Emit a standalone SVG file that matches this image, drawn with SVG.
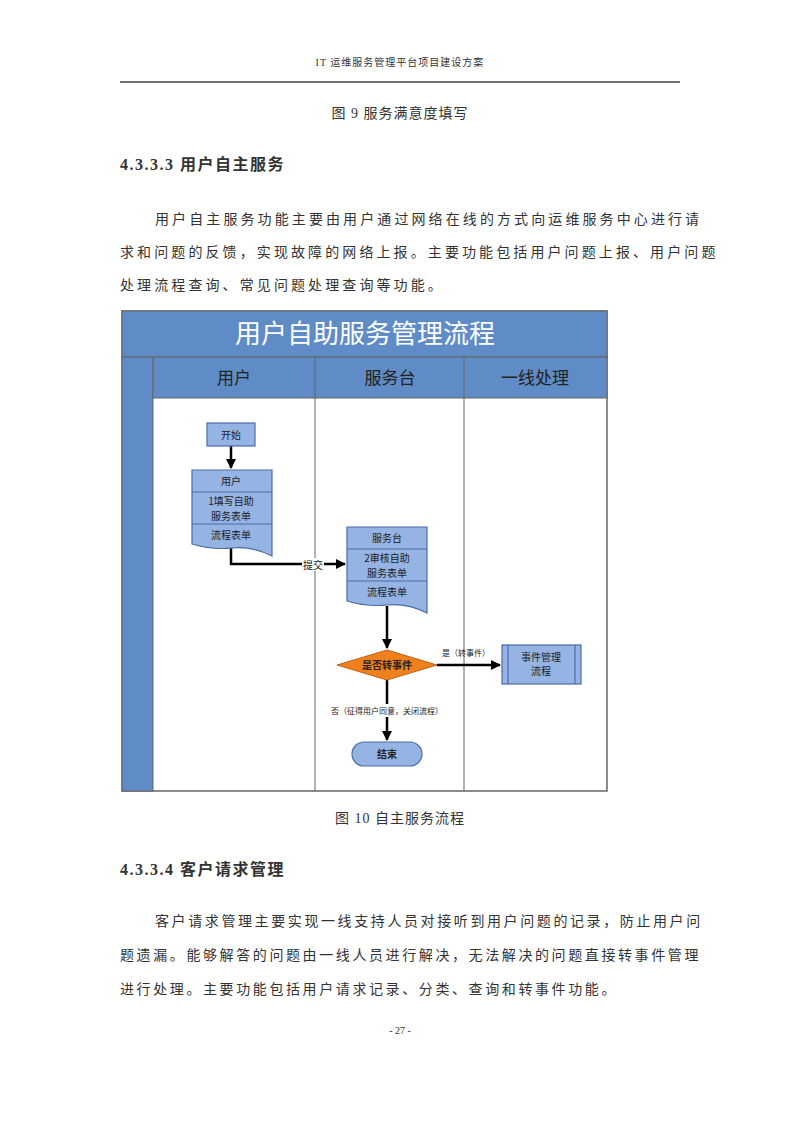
<svg xmlns="http://www.w3.org/2000/svg" width="800" height="1131" viewBox="0 0 800 1131">
<defs>
<style>
.t{font-family:"Liberation Serif","Noto Sans CJK SC",serif;fill:#333}
.s{font-family:"Noto Sans CJK SC",sans-serif;fill:#222}
.box{fill:#95b3e3;stroke:#4a6da8;stroke-width:1.2}
.ln{stroke:#000;stroke-width:2.5;fill:none}
.sep{stroke:#4a6da8;stroke-width:1.2}
</style>
<marker id="a" viewBox="0 0 10 10" refX="9" refY="5" markerWidth="4" markerHeight="4" orient="auto"><path d="M0,0L10,5L0,10z" fill="#000"/></marker>
</defs>
<rect width="800" height="1131" fill="#fff"/>
<text class="t" x="400" y="66" font-size="10" text-anchor="middle" letter-spacing="1">IT 运维服务管理平台项目建设方案</text>
<line x1="120" y1="82" x2="680" y2="82" stroke="#444" stroke-width="1.5"/>
<text class="t" x="400" y="118" font-size="14" text-anchor="middle" letter-spacing="1">图 9   服务满意度填写</text>
<text class="t" x="120" y="170" font-size="16" font-weight="bold" letter-spacing="1.5">4.3.3.3 用户自主服务</text>
<text class="t" font-size="14" letter-spacing="3.1"><tspan x="155" y="224">用户自主服务功能主要由用户通过网络在线的方式向运维服务中心进行请</tspan><tspan x="120" y="257">求和问题的反馈，实现故障的网络上报。主要功能包括用户问题上报、用户问题</tspan><tspan x="120" y="290">处理流程查询、常见问题处理查询等功能。</tspan></text>
<g id="pool">
<rect x="122" y="311" width="485" height="480" fill="#fff" stroke="#666" stroke-width="1.5"/>
<rect x="122" y="311" width="485" height="46" fill="#5f8cc6" stroke="#666"/>
<text class="s" x="365" y="343" font-size="26" fill="#fff" text-anchor="middle" style="fill:#fff">用户自助服务管理流程</text>
<rect x="122" y="357" width="31" height="434" fill="#5f8cc6" stroke="#666"/>
<rect x="153" y="357" width="454" height="41" fill="#5f8cc6" stroke="#666"/>
<line x1="315" y1="357" x2="315" y2="791" stroke="#666"/>
<line x1="464" y1="357" x2="464" y2="791" stroke="#666"/>
<text class="s" x="234" y="384" font-size="17" text-anchor="middle">用户</text>
<text class="s" x="390" y="384" font-size="17" text-anchor="middle">服务台</text>
<text class="s" x="535" y="384" font-size="17" text-anchor="middle">一线处理</text>
</g>
<g id="connectors">
<line class="ln" x1="231" y1="446" x2="231" y2="468" marker-end="url(#a)"/>
<path class="ln" d="M231,548V564H345" marker-end="url(#a)"/>
<rect x="302" y="558" width="22" height="13" fill="#fff"/>
<text class="s" x="313" y="569" font-size="10" text-anchor="middle">提交</text>
<line class="ln" x1="387" y1="606" x2="387" y2="648" marker-end="url(#a)"/>
<line class="ln" x1="437" y1="665" x2="500" y2="665" marker-end="url(#a)"/>
<text class="s" x="466" y="656" font-size="8" text-anchor="middle">是（转事件）</text>
<line class="ln" x1="387" y1="680" x2="387" y2="740" marker-end="url(#a)"/>
<rect x="322" y="704" width="130" height="13" fill="#fff"/>
<text class="s" x="387" y="714" font-size="8" text-anchor="middle">否（征得用户同意，关闭流程）</text>
</g>
<g id="start"><rect class="box" x="207" y="423" width="48" height="23"/><text class="s" x="231" y="439" font-size="10" text-anchor="middle">开始</text></g>
<g id="user">
<path class="box" d="M192,470H272V556Q252,546 232,548T192,544Z"/>
<line class="sep" x1="192" y1="492" x2="272" y2="492"/><line class="sep" x1="192" y1="524" x2="272" y2="524"/>
<text class="s" font-size="10" text-anchor="middle"><tspan x="231" y="485">用户</tspan><tspan x="231" y="505">1填写自助</tspan><tspan x="231" y="520">服务表单</tspan><tspan x="231" y="539">流程表单</tspan></text>
</g>
<g id="desk">
<path class="box" d="M347,527H427V613Q407,603 387,605T347,601Z"/>
<line class="sep" x1="347" y1="549" x2="427" y2="549"/><line class="sep" x1="347" y1="581" x2="427" y2="581"/>
<text class="s" font-size="10" text-anchor="middle"><tspan x="387" y="542">服务台</tspan><tspan x="387" y="562">2审核自助</tspan><tspan x="387" y="577">服务表单</tspan><tspan x="387" y="596">流程表单</tspan></text>
</g>
<g id="decision"><path d="M387,650L437,665L387,680L337,665Z" fill="#f0801c" stroke="#c0601a"/><text class="s" x="387" y="669" font-size="10" font-weight="bold" text-anchor="middle">是否转事件</text></g>
<g id="event"><rect class="box" x="502" y="645" width="79" height="39"/><line class="sep" x1="508" y1="645" x2="508" y2="684"/><line class="sep" x1="575" y1="645" x2="575" y2="684"/>
<text class="s" font-size="10" text-anchor="middle"><tspan x="541" y="661">事件管理</tspan><tspan x="541" y="675">流程</tspan></text></g>
<g id="end"><rect class="box" x="352" y="742" width="70" height="24" rx="12"/><text class="s" x="387" y="758" font-size="10" font-weight="bold" text-anchor="middle">结束</text></g>
<text class="t" x="400" y="823" font-size="14" text-anchor="middle" letter-spacing="1">图 10   自主服务流程</text>
<text class="t" x="120" y="875" font-size="16" font-weight="bold" letter-spacing="1.5">4.3.3.4 客户请求管理</text>
<text class="t" font-size="14" letter-spacing="2.6"><tspan x="155" y="926">客户请求管理主要实现一线支持人员对接听到用户问题的记录，防止用户问</tspan><tspan x="120" y="960">题遗漏。能够解答的问题由一线人员进行解决，无法解决的问题直接转事件管理</tspan><tspan x="120" y="994">进行处理。主要功能包括用户请求记录、分类、查询和转事件功能。</tspan></text>
<text class="t" x="400" y="1034" font-size="10" text-anchor="middle">- 27 -</text>
</svg>
